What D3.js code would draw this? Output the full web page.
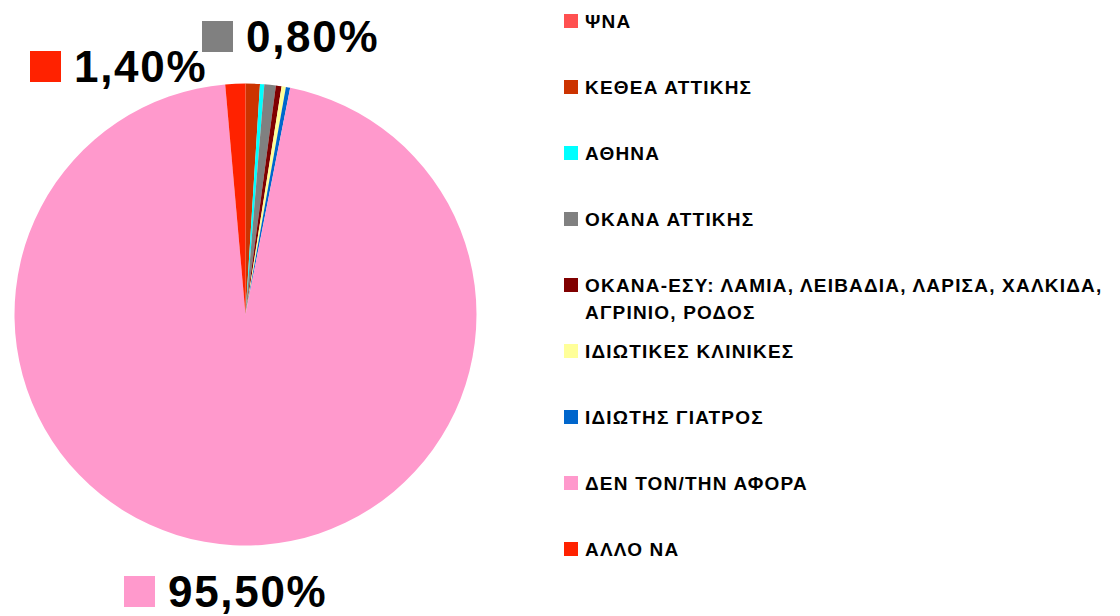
<!DOCTYPE html>
<html>
<head>
<meta charset="utf-8">
<script src="https://cdn.jsdelivr.net/npm/d3@7"></script>
<style>
  body { margin: 0; background: #fff; }
  svg { display: block; font-family: "Liberation Sans", Arial, sans-serif; }
</style>
</head>
<body>
<div id="chart"></div>
<script>
var categories = ["ΨΝΑ", "ΚΕΘΕΑ ΑΤΤΙΚΗΣ", "ΑΘΗΝΑ", "ΟΚΑΝΑ ΑΤΤΙΚΗΣ",
    "ΟΚΑΝΑ-ΕΣΥ: ΛΑΜΙΑ, ΛΕΙΒΑΔΙΑ, ΛΑΡΙΣΑ, ΧΑΛΚΙΔΑ, ΑΓΡΙΝΙΟ, ΡΟΔΟΣ",
    "ΙΔΙΩΤΙΚΕΣ ΚΛΙΝΙΚΕΣ", "ΙΔΙΩΤΗΣ ΓΙΑΤΡΟΣ", "ΔΕΝ ΤΟΝ/ΤΗΝ ΑΦΟΡΑ", "ΑΛΛΟ ΝΑ"];
var legendLines = [["ΨΝΑ"], ["ΚΕΘΕΑ ΑΤΤΙΚΗΣ"], ["ΑΘΗΝΑ"], ["ΟΚΑΝΑ ΑΤΤΙΚΗΣ"],
    ["ΟΚΑΝΑ-ΕΣΥ: ΛΑΜΙΑ, ΛΕΙΒΑΔΙΑ, ΛΑΡΙΣΑ, ΧΑΛΚΙΔΑ,", "ΑΓΡΙΝΙΟ, ΡΟΔΟΣ"],
    ["ΙΔΙΩΤΙΚΕΣ ΚΛΙΝΙΚΕΣ"], ["ΙΔΙΩΤΗΣ ΓΙΑΤΡΟΣ"], ["ΔΕΝ ΤΟΝ/ΤΗΝ ΑΦΟΡΑ"], ["ΑΛΛΟ ΝΑ"]];
var values = [0.0, 1.0, 0.3, 0.8, 0.4, 0.3, 0.3, 95.5, 1.4];
var colors = ["#ff5050", "#cc3300", "#00ffff", "#808080", "#800000",
    "#ffff99", "#0066cc", "#ff99cc", "#ff2200"];
// only these slices carry a label in the original
var labelled = ["ΟΚΑΝΑ ΑΤΤΙΚΗΣ", "ΔΕΝ ΤΟΝ/ΤΗΝ ΑΦΟΡΑ", "ΑΛΛΟ ΝΑ"];
var labelPos = {"ΟΚΑΝΑ ΑΤΤΙΚΗΣ": [202, 21], "ΔΕΝ ΤΟΝ/ΤΗΝ ΑΦΟΡΑ": [124, 576], "ΑΛΛΟ ΝΑ": [30, 51]};

var width = 1120, height = 616;
var cx = 245.5, cy = 314.5, radius = 231;

var svg = d3.select("#chart").append("svg")
    .attr("width", width)
    .attr("height", height);

var data = categories.map(function(c, i) {
    return {name: c, value: values[i], color: colors[i]};
});

var pie = d3.pie().sort(null).value(function(d) { return d.value; });
var arc = d3.arc().innerRadius(0).outerRadius(radius);

var g = svg.append("g").attr("transform", "translate(" + cx + "," + cy + ")");
g.selectAll("path")
    .data(pie(data))
    .join("path")
    .attr("d", arc)
    .attr("fill", function(d) { return d.data.color; });

var fmt = function(v) { return v.toFixed(2).replace(".", ",") + "%"; };

var labels = svg.selectAll(".slice-label")
    .data(data.filter(function(d) { return labelled.indexOf(d.name) >= 0; }))
    .join("g")
    .attr("class", "slice-label")
    .attr("transform", function(d) {
        var p = labelPos[d.name];
        return "translate(" + p[0] + "," + p[1] + ")";
    });
labels.append("rect")
    .attr("width", 31).attr("height", 31)
    .attr("fill", function(d) { return d.color; });
labels.append("text")
    .attr("x", 44)
    .attr("y", 31)
    .style("font-size", "44px")
    .style("font-weight", "bold")
    .style("letter-spacing", "1.7px")
    .attr("fill", "#000")
    .text(function(d) { return fmt(d.value); });

// legend
var legend = svg.selectAll(".legend")
    .data(data)
    .join("g")
    .attr("class", "legend")
    .attr("transform", function(d, i) { return "translate(564," + (21 + i * 66) + ")"; });

legend.append("rect")
    .attr("x", 0).attr("y", -7)
    .attr("width", 14).attr("height", 14)
    .attr("fill", function(d) { return d.color; });

legend.each(function(d, i) {
    var t = d3.select(this).append("text")
        .attr("x", 21)
        .attr("y", 6.5)
        .style("font-size", "19px")
        .style("font-weight", "bold")
        .style("letter-spacing", "1.2px")
        .attr("fill", "#000");
    legendLines[i].forEach(function(line, j) {
        t.append("tspan").attr("x", 21).attr("dy", j === 0 ? 0 : 27).text(line);
    });
});
</script>
</body>
</html>
